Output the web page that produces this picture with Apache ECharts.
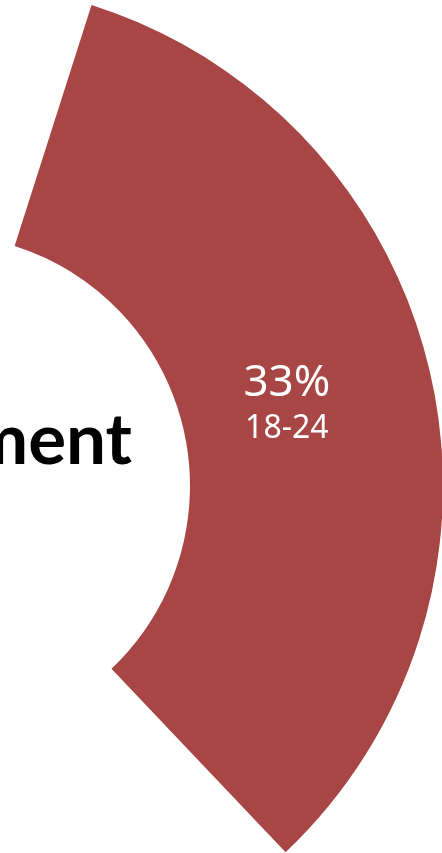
<!DOCTYPE html>
<html>
<head>
<meta charset="utf-8">
<script src="https://cdn.jsdelivr.net/npm/echarts@6/dist/echarts.min.js"></script>
<style>
  html, body { margin: 0; padding: 0; background: #ffffff; }
  #chart { width: 442px; height: 853px; }
</style>
</head>
<body>
<div id="chart"></div>
<script>
// Age-group share shown as a donut ring; only the 18-24 slice is coloured.
const categories = ['18-24', 'Other'];
const shares = [33, 67];
const sliceColors = ['#A74644', 'rgba(0,0,0,0)'];
const centerTitle = 'Engagement';

const chart = echarts.init(document.getElementById('chart'), null, { renderer: 'canvas' });

const data = categories.map((name, i) => ({
  name: name,
  value: shares[i],
  itemStyle: { color: sliceColors[i] },
  label: { show: i === 0 }
}));

chart.setOption({
  animation: false,
  backgroundColor: '#ffffff',
  graphic: [{
    type: 'text',
    right: 310,
    top: 406,
    style: {
      text: centerTitle,
      fill: '#000000',
      font: 'bold 71px Lato',
      textAlign: 'right'
    },
    silent: true
  }],
  series: [{
    type: 'pie',
    center: [-62, 486],
    radius: [252, 505],
    startAngle: 72.3,
    clockwise: true,
    silent: true,
    avoidLabelOverlap: false,
    labelLine: { show: false },
    label: {
      position: 'inside',
      offset: [-23, 3],
      formatter: p => '{v|' + p.value + '%}\n{n|' + p.name + '}',
      rich: {
        v: { fontFamily: 'Noto Sans', fontSize: 44, color: '#ffffff', lineHeight: 50 },
        n: { fontFamily: 'Noto Sans', fontSize: 32, color: '#ffffff', lineHeight: 40 }
      }
    },
    data: data
  }]
});
</script>
</body>
</html>
